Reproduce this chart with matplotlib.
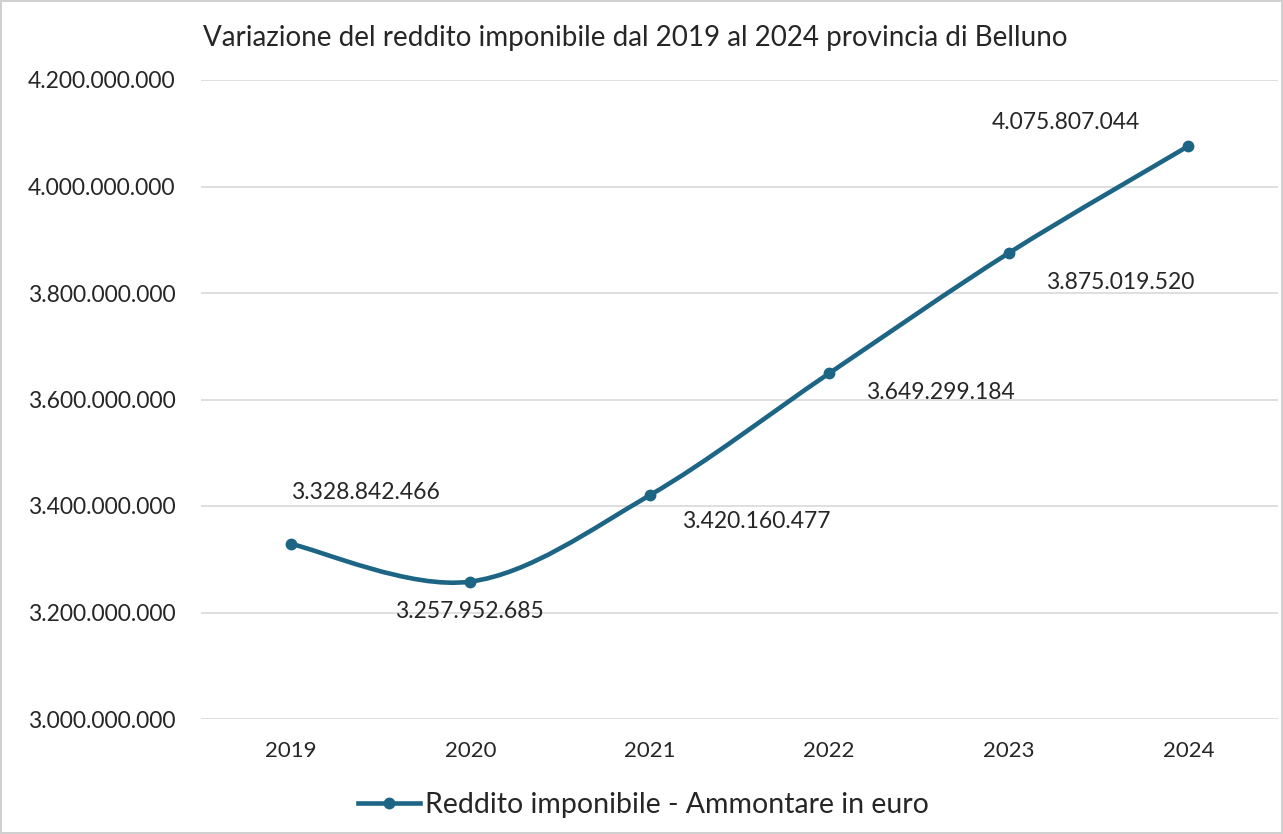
import matplotlib
matplotlib.use("Agg")
import matplotlib.pyplot as plt
import numpy as np
from matplotlib.path import Path
from matplotlib.patches import PathPatch
from matplotlib.ticker import FuncFormatter
from matplotlib.lines import Line2D

plt.rcParams['font.family'] = ['Lato', 'DejaVu Sans']

# Data
years = ["2019", "2020", "2021", "2022", "2023", "2024"]
redditi = [3328842466, 3257952685, 3420160477, 3649299184, 3875019520, 4075807044]
y_ticks = [3000000000, 3200000000, 3400000000, 3600000000, 3800000000, 4000000000, 4200000000]

# label offsets in pixels (dx, dy) relative to each marker
label_offsets = [(75, 51), (-1, -30), (107, -26), (111, -19), (111, -29), (-122, 24)]

color = '#1d6585'
text_color = '#262626'


def it_fmt(v, pos=None):
    return f"{v:,.0f}".replace(",", ".")


def smooth_path(xs, ys):
    """Excel-like smoothed line: Catmull-Rom turned into cubic Bezier segments."""
    pts = np.column_stack([xs, ys]).astype(float)
    n = len(pts)
    verts = [pts[0]]
    codes = [Path.MOVETO]
    for i in range(n - 1):
        p0 = pts[i - 1] if i > 0 else pts[i]
        p1 = pts[i]
        p2 = pts[i + 1]
        p3 = pts[i + 2] if i + 2 < n else pts[i + 1]
        c1 = p1 + (p2 - p0) / 6.0
        c2 = p2 - (p3 - p1) / 6.0
        verts += [c1, c2, p2]
        codes += [Path.CURVE4] * 3
    return Path(verts, codes)


fig = plt.figure(figsize=(12.83, 8.34), dpi=100)
fig.patch.set_edgecolor('#d0d0d0')
fig.patch.set_linewidth(1.5)
ax = fig.add_axes([201 / 1283, 1 - 719 / 834, 1077 / 1283, 639 / 834])

x = np.arange(len(years))
ax.add_patch(PathPatch(smooth_path(x, redditi), facecolor='none', edgecolor=color,
                       lw=3.3, capstyle='round', joinstyle='round', zorder=3))
ax.plot(x, redditi, linestyle='none', marker='o', markersize=7.5, color=color, zorder=4)

for xi, val, (dx, dy) in zip(x, redditi, label_offsets):
    ax.annotate(it_fmt(val), (xi, val), xytext=(dx * 0.72, dy * 0.72), textcoords='offset points',
                ha='center', va='center', fontsize=16.5, color=text_color)

ax.set_xlim(-0.5, len(years) - 0.5)
ax.set_ylim(y_ticks[0], y_ticks[-1])
ax.set_xticks(x)
ax.set_xticklabels(years)
ax.set_yticks(y_ticks)
ax.yaxis.set_major_formatter(FuncFormatter(it_fmt))
ax.tick_params(axis='both', length=0, colors=text_color)
ax.tick_params(axis='y', pad=18.5, labelsize=16.5)
ax.tick_params(axis='x', pad=16, labelsize=16)
ax.grid(axis='y', color='#d9d9d9', lw=1.2)
ax.set_axisbelow(True)
for s in ax.spines.values():
    s.set_visible(False)

fig.text(203 / 1283, 1 - 38 / 834, "Variazione del reddito imponibile dal 2019 al 2024 provincia di Belluno",
         ha='left', va='center', fontsize=20, color=text_color)

handle = Line2D([], [], color=color, lw=3.3, marker='o', markersize=7.5)
fig.legend([handle], ["Reddito imponibile - Ammontare in euro"], loc='center',
           bbox_to_anchor=(643 / 1283, 1 - 805 / 834), frameon=False, fontsize=20.5,
           handlelength=2.2, handletextpad=0.15, labelcolor=text_color)

fig.savefig("out.png", dpi=100)
